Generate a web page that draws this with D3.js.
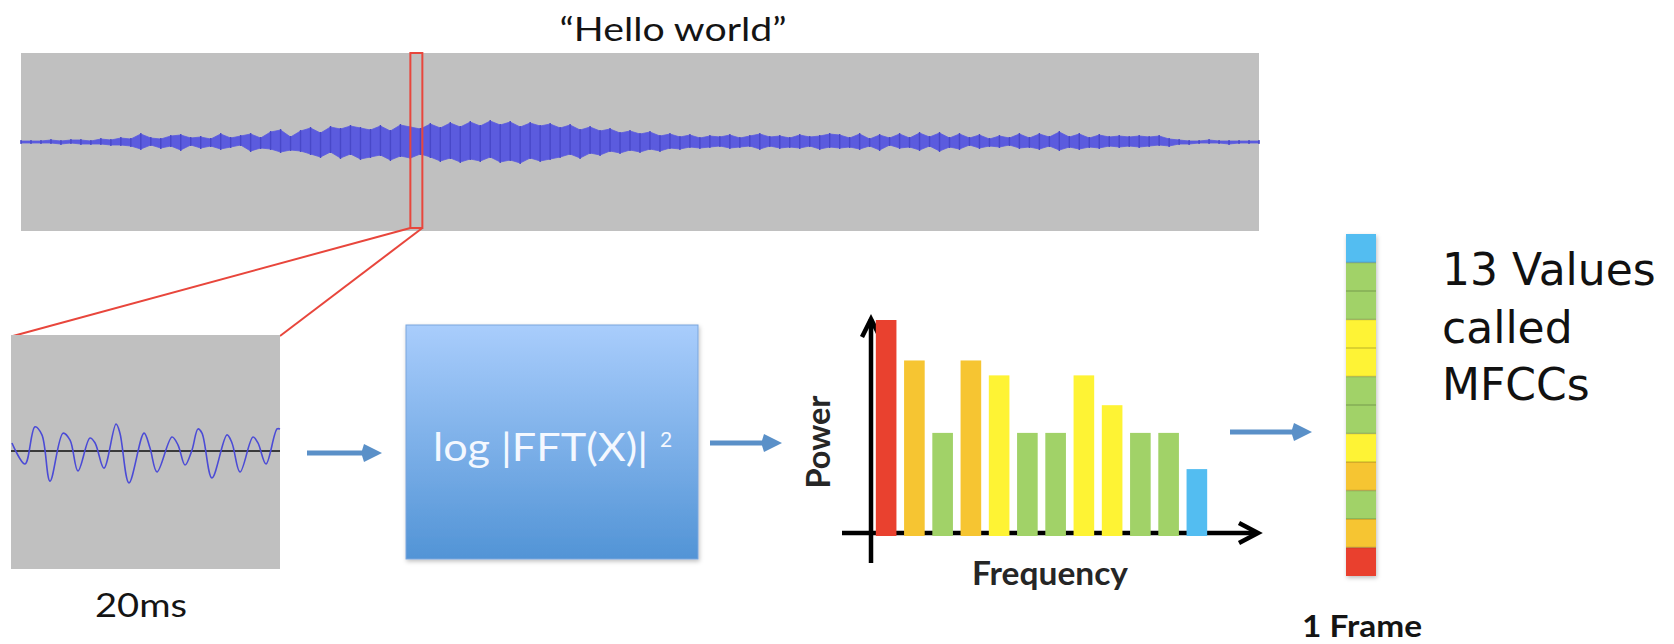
<!DOCTYPE html>
<html>
<head>
<meta charset="utf-8">
<script src="https://cdn.jsdelivr.net/npm/d3@7"></script>
<style>
  body { margin: 0; background: #fff; }
  svg { display: block; }
  text { font-family: Lato, "Open Sans", sans-serif; fill: #141414; }
</style>
</head>
<body>
<div id="chart"></div>
<script>
// utterance envelope, one value per column (upper / lower peak)
const waveUp = [1,1,1,2,1,2,2,1,3,2, 4,3,8,4,3,6,7,4,5,3, 8,4,6,8,4,10,12,5,11,14,
    9,15,13,16,14,12,16,11,17,15, 13,18,14,19,15,20,16,21,17,20, 15,19,16,18,14,17,12,15,11,13,
    9,11,8,10,6,8,5,7,4,6, 5,7,4,6,8,5,6,4,7,5, 6,8,7,4,8,3,7,4,8,4,
    9,5,9,4,8,4,7,3,6,4, 8,4,8,5,10,5,8,4,7,5, 6,5,6,5,6,3,2,1,1,2, 1,1,1,1,1];
const waveDown = [1,1,1,1,2,1,2,2,2,3, 3,4,7,3,6,4,8,3,6,4, 7,5,3,9,6,7,10,8,9,12,
    15,10,16,12,17,15,13,18,14,16, 12,15,19,16,20,17,19,15,20,18, 21,16,19,17,15,12,16,11,13,9,
    11,8,10,7,9,6,7,5,6,5, 4,6,5,4,7,4,6,5,6,4, 7,5,6,5,7,4,8,3,6,5,
    8,4,9,5,7,3,6,4,5,3, 6,5,7,4,8,5,7,5,6,4, 5,4,5,4,3,4,2,2,1,1, 1,2,1,1,1];
const selectedFrame = [39, 40.2];

// the 20ms frame: time (ms) and amplitude
const frameTime = [0.07,1.04,1.78,2.30,2.90,3.87,4.39,4.98,5.87,6.25,6.91,7.81,8.10,8.77,9.89,10.33,
    10.86,11.97,12.42,12.94,13.46,13.90,14.20,14.94,16.06,16.43,17.03,17.99,18.36,18.96,19.78,20.0];
const frameAmp = [0.23,-0.37,0.69,0.46,-0.86,0.51,0.31,-0.57,0.37,0.23,-0.49,0.77,0.51,-0.91,0.51,0.09,
    -0.60,0.40,0.17,-0.40,0.03,0.63,0.51,-0.77,0.46,0.23,-0.60,0.40,0.23,-0.37,0.63,0.63];

// power spectrum
const freqBins = ["f1","f2","f3","f4","f5","f6","f7","f8","f9","f10","f11","f12"];
const powerValues = [10, 8.1, 4.7, 8.1, 7.4, 4.7, 4.7, 7.4, 6.0, 4.7, 4.7, 3.0];

// labels
const titleText = "\u201cHello world\u201d";
const frameLabel = "20ms";
const fftLabel = "log\u00a0|FFT(X)|";
const fftPower = "2";
const yLabel = "Power";
const xLabel = "Frequency";
const mfccLines = ["13 Values", "called", "MFCCs"];
const mfccCaption = "1 Frame";

const levelColor = d3.scaleThreshold()
    .domain([4, 5.5, 7.8, 9])
    .range(["#53bdf1", "#a1d268", "#fef334", "#f6c532", "#e9412f"]);

const arrowColor = "#5a90c8";

const svg = d3.select("#chart")
    .append("svg")
    .attr("width", 1674)
    .attr("height", 644);

const defs = svg.append("defs");
let grad = defs.append("linearGradient")
    .attr("id", "fftGrad")
    .attr("x1", 0).attr("y1", 0).attr("x2", 0).attr("y2", 1);
grad.append("stop").attr("offset", "0%").attr("stop-color", "#a9cdfc");
grad.append("stop").attr("offset", "100%").attr("stop-color", "#5294d6");

let shadow = defs.append("filter").attr("id", "shadow")
    .attr("x", "-10%").attr("y", "-10%").attr("width", "130%").attr("height", "130%");
shadow.append("feDropShadow")
    .attr("dx", 1).attr("dy", 2).attr("stdDeviation", 2)
    .attr("flood-color", "#000").attr("flood-opacity", 0.25);

const drawArrow = (x1, x2, y) => {
    let head = 20, half = 9, shaft = 2.6;
    let pts = [[x1, y - shaft], [x2 - head, y - shaft], [x2 - head + 2, y - half], [x2, y],
        [x2 - head + 2, y + half], [x2 - head, y + shaft], [x1, y + shaft]];
    svg.append("path")
        .attr("d", d3.line()(pts) + "Z")
        .attr("fill", arrowColor);
};

const buildUtterance = () => {

    let x = d3.scaleLinear().domain([0, waveUp.length - 1]).range([21, 1259]);
    let y = d3.scaleLinear().domain([-89, 89]).range([231, 53]);

    svg.append("rect")
        .attr("x", x(0)).attr("y", y(89))
        .attr("width", x(waveUp.length - 1) - x(0))
        .attr("height", y(-89) - y(89))
        .attr("fill", "#c0c0c0");

    svg.append("line")
        .attr("x1", x(0)).attr("x2", x(waveUp.length - 1))
        .attr("y1", y(0)).attr("y2", y(0))
        .attr("stroke", "#5656d8").attr("stroke-width", 1.5);

    let area = d3.area()
        .x((d, i) => x(i))
        .y0((d, i) => y(-waveDown[i]))
        .y1(d => y(d));

    svg.append("path")
        .datum(waveUp)
        .attr("d", area)
        .attr("fill", "#5b5bde")
        .attr("stroke", "#5b5bde")
        .attr("stroke-width", 0.8);

    // thin spikes at each peak give the waveform its texture
    svg.append("g")
        .selectAll("line")
        .data(waveUp)
        .enter()
        .append("line")
        .attr("x1", (d, i) => x(i)).attr("x2", (d, i) => x(i))
        .attr("y1", d => y(d) - 1)
        .attr("y2", (d, i) => y(-waveDown[i]) + 1)
        .attr("stroke", "#4848c8")
        .attr("stroke-width", 1.4);

    svg.append("rect")
        .attr("x", x(selectedFrame[0])).attr("y", y(89))
        .attr("width", x(selectedFrame[1]) - x(selectedFrame[0]))
        .attr("height", y(-89) - y(89) - 3)
        .attr("fill", "none")
        .attr("stroke", "#e8463c")
        .attr("stroke-width", 2);

    svg.append("text")
        .attr("x", 673).attr("y", 41)
        .attr("text-anchor", "middle")
        .attr("font-size", 33)
        .attr("textLength", 227)
        .attr("lengthAdjust", "spacingAndGlyphs")
        .text(titleText);

    return [x(selectedFrame[0]), x(selectedFrame[1]), y(-89) - 3];
};

const buildFrame = (anchor) => {

    let x = d3.scaleLinear().domain([0, 20]).range([11, 280]);
    let y = d3.scaleLinear().domain([-1, 1]).range([486, 416]);
    let top = 335, bottom = 569;

    // zoom lines from the selected frame
    svg.append("line")
        .attr("x1", anchor[0]).attr("y1", anchor[2])
        .attr("x2", x(0) + 2).attr("y2", top + 1)
        .attr("stroke", "#e8463c").attr("stroke-width", 2);
    svg.append("line")
        .attr("x1", anchor[1]).attr("y1", anchor[2])
        .attr("x2", x(20)).attr("y2", top + 1)
        .attr("stroke", "#e8463c").attr("stroke-width", 2);

    svg.append("rect")
        .attr("x", x(0)).attr("y", top)
        .attr("width", x(20) - x(0)).attr("height", bottom - top)
        .attr("fill", "#c0c0c0");

    svg.append("line")
        .attr("x1", x(0)).attr("x2", x(20))
        .attr("y1", y(0)).attr("y2", y(0))
        .attr("stroke", "#3a3a3a").attr("stroke-width", 2);

    let line = d3.line()
        .x(d => x(d))
        .y((d, i) => y(frameAmp[i]))
        .curve(d3.curveCatmullRom);

    svg.append("path")
        .datum(frameTime)
        .attr("d", line)
        .attr("fill", "none")
        .attr("stroke", "#4b4bd6")
        .attr("stroke-width", 1.6);

    svg.append("text")
        .attr("x", 95).attr("y", 617)
        .attr("font-size", 33)
        .attr("textLength", 92)
        .attr("lengthAdjust", "spacingAndGlyphs")
        .text(frameLabel);
};

const buildFft = () => {

    svg.append("rect")
        .attr("x", 406).attr("y", 325)
        .attr("width", 292).attr("height", 234)
        .attr("fill", "url(#fftGrad)")
        .attr("stroke", "#7aa6dc")
        .attr("stroke-width", 1)
        .attr("filter", "url(#shadow)");

    svg.append("text")
        .attr("x", 433).attr("y", 461)
        .attr("font-size", 38)
        .attr("textLength", 215)
        .attr("lengthAdjust", "spacingAndGlyphs")
        .style("fill", "#f4f8ff")
        .text(fftLabel);

    svg.append("text")
        .attr("x", 660).attr("y", 447)
        .attr("font-size", 21)
        .style("fill", "#f4f8ff")
        .text(fftPower);
};

const buildSpectrum = () => {

    let x = d3.scaleBand()
        .domain(freqBins)
        .range([873, 1210])
        .paddingInner(0.27)
        .paddingOuter(0.1);
    let y = d3.scaleLinear().domain([0, 10]).range([533, 320]);

    let axisX = 871;
    let g = svg.append("g")
        .attr("fill", "none")
        .attr("stroke", "#000")
        .attr("stroke-width", 4.5)
        .attr("stroke-linecap", "butt");

    // y axis with arrow
    g.append("path").attr("d", `M${axisX},563V${y(10) - 1}`);
    g.append("path").attr("d", `M${axisX - 9},${y(10) + 17}L${axisX},${y(10) - 1}L${axisX + 9},${y(10) + 17}`);
    // x axis with arrow
    g.append("path").attr("d", `M842,${y(0)}H1257`);
    g.append("path").attr("d", `M1239,${y(0) - 10}L1258,${y(0)}L1239,${y(0) + 10}`);

    svg.append("g")
        .selectAll("rect")
        .data(powerValues)
        .enter()
        .append("rect")
        .attr("x", (d, i) => x(freqBins[i]))
        .attr("y", d => y(d))
        .attr("width", x.bandwidth())
        .attr("height", d => y(0) - y(d) + 3)
        .attr("fill", d => levelColor(d));

    svg.append("text")
        .attr("transform", `translate(830,442) rotate(-90)`)
        .attr("text-anchor", "middle")
        .attr("font-size", 32)
        .attr("font-weight", 700)
        .attr("textLength", 93)
        .attr("lengthAdjust", "spacingAndGlyphs")
        .style("fill", "#262626")
        .text(yLabel);

    svg.append("text")
        .attr("x", 1050).attr("y", 585)
        .attr("text-anchor", "middle")
        .attr("font-size", 32)
        .attr("font-weight", 700)
        .attr("textLength", 156)
        .attr("lengthAdjust", "spacingAndGlyphs")
        .style("fill", "#262626")
        .text(xLabel);
};

const buildMfcc = () => {

    let y = d3.scaleBand()
        .domain(d3.range(powerValues.length))
        .range([576, 234]);

    let col = svg.append("g").attr("filter", "url(#shadow)");

    col.selectAll("rect")
        .data(powerValues)
        .enter()
        .append("rect")
        .attr("x", 1346)
        .attr("y", (d, i) => y(i))
        .attr("width", 30)
        .attr("height", y.bandwidth())
        .attr("fill", d => levelColor(d));

    col.selectAll("line")
        .data(powerValues.slice(0, -1))
        .enter()
        .append("line")
        .attr("x1", 1346).attr("x2", 1376)
        .attr("y1", (d, i) => y(i))
        .attr("y2", (d, i) => y(i))
        .attr("stroke", "#000")
        .attr("stroke-opacity", 0.18)
        .attr("stroke-width", 1.5);

    svg.append("g")
        .selectAll("text")
        .data(mfccLines)
        .enter()
        .append("text")
        .attr("x", 1442)
        .attr("y", (d, i) => 285 + i * 57.5)
        .style("font-family", "'DejaVu Sans', Verdana, sans-serif")
        .attr("font-size", 44)
        .style("fill", "#111")
        .text(d => d);

    svg.append("text")
        .attr("x", 1362).attr("y", 637)
        .attr("text-anchor", "middle")
        .attr("font-size", 31)
        .attr("font-weight", 700)
        .attr("textLength", 120)
        .attr("lengthAdjust", "spacingAndGlyphs")
        .text(mfccCaption);
};

let anchor = buildUtterance();
buildFrame(anchor);
buildFft();
buildSpectrum();
buildMfcc();

drawArrow(307, 382, 453);
drawArrow(710, 782, 443);
drawArrow(1230, 1312, 432);
</script>
</body>
</html>
